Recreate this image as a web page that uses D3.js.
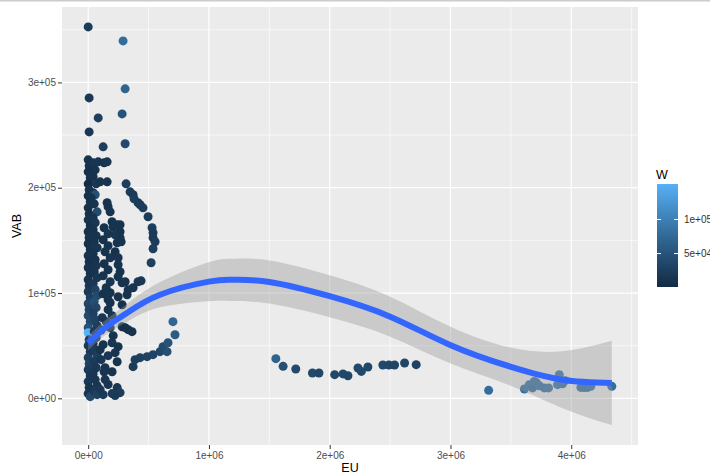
<!DOCTYPE html>
<html>
<head>
<meta charset="utf-8">
<script src="https://cdn.jsdelivr.net/npm/d3@7"></script>
<style>
  body { margin: 0; background: #fff; }
  text { font-family: "Liberation Sans", Arial, sans-serif; }
</style>
</head>
<body>
<div id="chart"></div>
<script>
const width = 710;
const height = 474;

const eu = [
  0, 289000, 306000, 8000, 281000, 83000, 8000, 124000, 306000,
  0, 8000, 0, 17000, 0, 8000, 0, 17000, 0, 8000, 0, 17000, 0, 8000, 0, 17000, 0, 8000, 0, 17000,
  0, 8000, 0, 17000, 0, 8000, 0, 17000, 0, 0, 8000, 0, 17000, 0, 8000, 0, 17000, 0, 8000, 0, 17000,
  41000, 58000, 41000, 66000, 41000, 58000, 25000, 50000, 74000, 41000, 58000, 41000, 66000, 50000,
  74000, 41000, 58000, 66000, 50000, 74000, 41000, 58000, 74000, 50000, 66000, 41000, 58000, 74000,
  50000, 66000, 41000, 58000, 74000, 50000, 66000, 41000, 58000, 74000, 50000, 74000,
  83000, 132000, 157000, 99000, 157000, 157000, 165000, 182000, 198000, 240000, 264000, 264000, 264000, 273000,
  132000, 165000, 124000, 165000, 140000, 182000, 132000, 165000, 124000, 182000, 149000, 124000, 165000,
  207000, 223000, 240000, 223000, 248000, 248000, 264000, 248000, 281000, 306000, 413000, 438000, 372000,
  331000, 182000, 248000, 322000, 182000, 281000,
  165000, 198000, 149000, 182000, 281000, 306000, 331000, 363000, 207000, 198000, 248000, 223000, 240000,
  165000, 140000, 198000, 140000, 165000, 240000, 124000, 99000, 198000, 264000, 223000,
  107000, 124000, 107000, 132000, 99000, 116000,
  314000, 347000, 372000, 380000, 413000, 430000, 454000, 496000, 529000, 537000, 537000, 554000, 537000, 521000,
  372000, 388000, 430000, 488000, 537000, 595000, 620000, 653000, 661000, 719000, 702000,
  1554000, 1614000, 1719000, 1857000, 1911000, 2041000, 2110000, 2151000, 2234000, 2262000, 2316000,
  2440000, 2490000, 2537000, 2620000, 2716000,
  3316000, 3612000, 3653000, 3680000, 3694000, 3711000, 3735000, 3777000, 3812000, 3887000, 3901000,
  3928000, 3950000, 4080000, 4107000, 4135000, 4162000, 4336000
];
const vab = [
  352700, 339400, 293900, 285300, 270100, 266300, 253000, 238800, 241700,
  226500, 220800, 215100, 209400, 203700, 198000, 192300, 186600, 180900, 175200, 169500, 163900, 158200, 152500, 146800, 141100, 135400, 129700, 124000, 118300,
  112600, 106900, 101200, 95500, 89800, 84200, 78500, 72800, 67100, 62300, 55700, 50000, 44300, 38600, 32900, 27200, 21500, 15900, 10200, 4500, 1600,
  223600, 217000, 210400, 203700, 195200, 193300, 190400, 184700, 177100, 171400, 166700, 160100, 154400, 148700,
  143000, 137300, 131600, 125900, 120200, 114600, 108900, 103100, 97500, 91800, 86100, 80400, 74700, 69100,
  63400, 57600, 51900, 46200, 40500, 34800, 29100, 23400, 17700, 12100, 6400, 3500,
  224600, 223600, 224600, 205600, 205600, 185700, 181900, 177100, 167700, 164800, 164800, 158200, 152500, 148700,
  162000, 156300, 150600, 144900, 139200, 133500, 127800, 122100, 116400, 110700, 105000, 99300, 93700,
  162900, 155300, 147700, 139200, 133500, 126900, 120200, 115500, 109800, 110700, 110700, 111600, 105000,
  103100, 100300, 96500, 98400, 90800, 88900,
  84200, 78500, 72800, 67100, 68000, 67100, 65200, 63300, 59500, 52800, 49100, 43400, 34800,
  40500, 29100, 25300, 17800, 13100, 10200, 3500, 8300, 4500, 5400, 2600,
  64900, 51000, 36700, 25300, 46200, 76600,
  203700, 196100, 193300, 189500, 185700, 183800, 180900, 172400, 162000, 157200, 152500, 148700, 142000, 128800,
  30100, 36700, 38600, 39600, 41500, 44300, 49100, 44300, 52800, 60400, 72800,
  37700, 30400, 27900, 24100, 24100, 22500, 23200, 21500, 28800, 25600, 29800,
  31700, 31700, 31700, 33600, 32000,
  7600, 8900, 13000, 9900, 16100, 14900, 12000, 9900, 9900, 13000, 22500,
  13900, 16800, 10400, 10200, 10400, 11400, 11400
];
const w = [
  22000, 78000, 70000, 18000, 50000, 25000, 18000, 25000, 40000,
  12000, 10000, 9000, 11000, 1000, 10000, 9000, 12000, 10000, 8000, 11000, 9000, 10000, 12000, 8000, 10000, 13000, 9000, 11000, 10000,
  12000, 14000, 20000, 28000, 35000, 30000, 40000, 38000, 45000, 152000, 30000, 22000, 18000, 25000, 30000, 20000, 15000, 18000, 12000, 14000, 40000,
  14000, 12000, 10000, 15000, 12000, 45000, 10000, 11000, 40000, 12000, 14000, 10000, 12000, 11000,
  14000, 12000, 10000, 13000, 12000, 15000, 18000, 30000, 40000, 45000, 35000, 28000, 30000, 25000,
  20000, 18000, 15000, 22000, 25000, 20000, 18000, 15000, 14000, 16000, 20000, 30000,
  14000, 12000, 16000, 12000, 13000, 12000, 10000, 11000, 12000, 14000, 12000, 10000, 11000, 12000,
  12000, 14000, 10000, 12000, 11000, 13000, 10000, 12000, 11000, 14000, 12000, 10000, 12000,
  12000, 14000, 12000, 10000, 13000, 12000, 11000, 12000, 10000, 12000, 18000, 16000, 12000,
  14000, 12000, 10000, 12000, 11000, 10000,
  12000, 14000, 15000, 12000, 10000, 8000, 9000, 10000, 12000, 14000, 12000, 13000, 12000,
  15000, 14000, 12000, 16000, 14000, 15000, 20000, 18000, 22000, 24000, 20000,
  14000, 12000, 15000, 13000, 12000, 14000,
  25000, 22000, 20000, 24000, 20000, 22000, 24000, 22000, 25000, 22000, 20000, 24000, 26000, 28000,
  22000, 25000, 28000, 30000, 32000, 35000, 40000, 45000, 50000, 58000, 72000,
  68000, 45000, 40000, 38000, 35000, 36000, 38000, 35000, 40000, 38000, 36000,
  38000, 35000, 33000, 34000, 30000,
  80000, 85000, 88000, 82000, 90000, 85000, 86000, 84000, 88000, 90000, 92000,
  86000, 88000, 85000, 87000, 84000, 86000, 80000
];

// loess curve and its confidence band, read at a few EU values
const fitEU = [0, 155000, 320000, 595000, 1000000, 1200000, 1500000, 2000000, 2496000, 2992000, 3488000, 3928000, 4336000];
const fitVAB = [52500, 68300, 81000, 98400, 110800, 112500, 110500, 97000, 77800, 51000, 30400, 17700, 14600];
const fitLo = [45500, 61300, 72500, 86400, 92300, 92500, 90000, 77000, 58800, 33500, 12400, -9300, -25400];
const fitHi = [59500, 75300, 89500, 110400, 129300, 132500, 131000, 117000, 96800, 68500, 48400, 44700, 54600];

const xTicks = [0, 1000000, 2000000, 3000000, 4000000];
const xMinor = [500000, 1500000, 2500000, 3500000, 4500000];
const yTicks = [0, 100000, 200000, 300000];
const yMinor = [50000, 150000, 250000, 350000];
const legendTicks = [50000, 100000];

const points = eu.map((d, i) => ({ eu: d, vab: vab[i], w: w[i] }));
const fit = fitEU.map((d, i) => ({ eu: d, vab: fitVAB[i], lo: fitLo[i], hi: fitHi[i] }));

const panel = { left: 62, right: 638, top: 7, bottom: 445 };

// ggplot style 5% expansion
function expand(ext) {
  const pad = (ext[1] - ext[0]) * 0.05;
  return [ext[0] - pad, ext[1] + pad];
}

const x = d3.scaleLinear()
  .domain(expand(d3.extent(eu)))
  .range([panel.left, panel.right]);

const y = d3.scaleLinear()
  .domain(expand([d3.min(fitLo), d3.max(vab)]))
  .range([panel.bottom, panel.top]);

const color = d3.scaleLinear()
  .domain(d3.extent(w))
  .range(["#132B43", "#56B1F7"])
  .interpolate(d3.interpolateLab);

// 3e+05 style labels like R
const sci = v => d3.format(".0e")(v).replace(/e([+-])(\d)$/, "e$10$2");

const svg = d3.select("#chart").append("svg")
  .attr("width", width)
  .attr("height", height);

svg.append("rect")
  .attr("x", 0).attr("y", 0)
  .attr("width", width).attr("height", 1.5)
  .attr("fill", "#cccccc");

svg.append("rect")
  .attr("x", panel.left)
  .attr("y", panel.top)
  .attr("width", panel.right - panel.left)
  .attr("height", panel.bottom - panel.top)
  .attr("fill", "#EBEBEB");

const grid = svg.append("g").attr("stroke", "#fff");

grid.selectAll(".xminor").data(xMinor).join("line")
  .attr("class", "xminor")
  .attr("x1", d => x(d)).attr("x2", d => x(d))
  .attr("y1", panel.top).attr("y2", panel.bottom)
  .attr("stroke-width", 0.6);

grid.selectAll(".yminor").data(yMinor).join("line")
  .attr("class", "yminor")
  .attr("y1", d => y(d)).attr("y2", d => y(d))
  .attr("x1", panel.left).attr("x2", panel.right)
  .attr("stroke-width", 0.6);

grid.selectAll(".xmajor").data(xTicks).join("line")
  .attr("class", "xmajor")
  .attr("x1", d => x(d)).attr("x2", d => x(d))
  .attr("y1", panel.top).attr("y2", panel.bottom)
  .attr("stroke-width", 1.2);

grid.selectAll(".ymajor").data(yTicks).join("line")
  .attr("class", "ymajor")
  .attr("y1", d => y(d)).attr("y2", d => y(d))
  .attr("x1", panel.left).attr("x2", panel.right)
  .attr("stroke-width", 1.2);

// points first, then the band and the line over them
svg.append("g")
  .selectAll("circle")
  .data(points)
  .join("circle")
  .attr("cx", d => x(d.eu))
  .attr("cy", d => y(d.vab))
  .attr("r", 4.5)
  .attr("fill", d => color(d.w));

const area = d3.area()
  .x(d => x(d.eu))
  .y0(d => y(d.lo))
  .y1(d => y(d.hi))
  .curve(d3.curveNatural);

svg.append("path")
  .datum(fit)
  .attr("d", area)
  .attr("fill", "#999999")
  .attr("fill-opacity", 0.4);

const line = d3.line()
  .x(d => x(d.eu))
  .y(d => y(d.vab))
  .curve(d3.curveNatural);

svg.append("path")
  .datum(fit)
  .attr("d", line)
  .attr("fill", "none")
  .attr("stroke", "#3366FF")
  .attr("stroke-width", 6);

// axes
const xAxis = svg.append("g")
  .attr("transform", `translate(0,${panel.bottom})`)
  .call(d3.axisBottom(x).tickValues(xTicks).tickFormat(sci).tickSize(4).tickPadding(3));

const yAxis = svg.append("g")
  .attr("transform", `translate(${panel.left},0)`)
  .call(d3.axisLeft(y).tickValues(yTicks).tickFormat(sci).tickSize(4).tickPadding(2));

[xAxis, yAxis].forEach(g => {
  g.select(".domain").remove();
  g.selectAll(".tick line").attr("stroke", "#333333");
  g.selectAll(".tick text")
    .attr("fill", "#4D4D4D")
    .style("font-size", "10px")
    .style("font-family", "'Liberation Sans', Arial, sans-serif");
});

svg.append("text")
  .attr("x", (panel.left + panel.right) / 2)
  .attr("y", 471.5)
  .attr("text-anchor", "middle")
  .style("font-size", "12.5px")
  .text("EU");

svg.append("text")
  .attr("transform", `translate(21,${(panel.top + panel.bottom) / 2}) rotate(-90)`)
  .attr("text-anchor", "middle")
  .style("font-size", "12.5px")
  .text("VAB");

// colour bar legend
const bar = { x: 657, y: 184, w: 21, h: 103 };
const ly = d3.scaleLinear().domain(d3.extent(w)).range([bar.y + bar.h, bar.y]);

const grad = svg.append("defs").append("linearGradient")
  .attr("id", "wgrad")
  .attr("x1", 0).attr("y1", 1).attr("x2", 0).attr("y2", 0);

grad.selectAll("stop")
  .data(d3.range(0, 1.0001, 0.1))
  .join("stop")
  .attr("offset", d => d)
  .attr("stop-color", d => color(color.domain()[0] + d * (color.domain()[1] - color.domain()[0])));

svg.append("text")
  .attr("x", 656)
  .attr("y", 178.5)
  .style("font-size", "12.5px")
  .text("W");

svg.append("rect")
  .attr("x", bar.x).attr("y", bar.y)
  .attr("width", bar.w).attr("height", bar.h)
  .attr("fill", "url(#wgrad)");

const lt = svg.append("g");
lt.selectAll(".tl").data(legendTicks).join("line")
  .attr("class", "tl")
  .attr("x1", bar.x).attr("x2", bar.x + 4)
  .attr("y1", d => ly(d)).attr("y2", d => ly(d))
  .attr("stroke", "#fff").attr("stroke-width", 1);
lt.selectAll(".tr").data(legendTicks).join("line")
  .attr("class", "tr")
  .attr("x1", bar.x + bar.w - 4).attr("x2", bar.x + bar.w)
  .attr("y1", d => ly(d)).attr("y2", d => ly(d))
  .attr("stroke", "#fff").attr("stroke-width", 1);
lt.selectAll("text").data(legendTicks).join("text")
  .attr("x", 684)
  .attr("y", d => ly(d))
  .attr("dy", "0.35em")
  .attr("fill", "#333")
  .style("font-size", "10px")
  .text(sci);
</script>
</body>
</html>
